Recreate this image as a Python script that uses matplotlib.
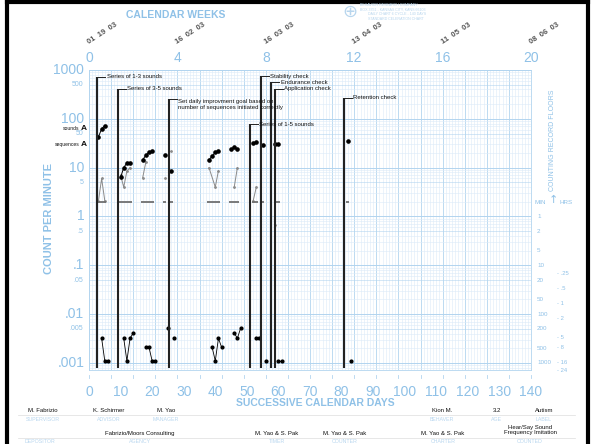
import matplotlib
matplotlib.use("Agg")
import matplotlib.pyplot as plt
import matplotlib.transforms as mtransforms
from matplotlib.lines import Line2D
import numpy as np

plt.rcParams["font.family"] = ["Liberation Sans", "DejaVu Sans"]

# ---- data ----
sound_days = [3, 4, 5, 10, 11, 12, 13, 17, 18, 19, 20, 24, 26,
              38, 39, 40, 41, 45, 46, 47, 52, 53, 55, 59, 60, 82]
sound_vals = [43, 62, 73, 6.3, 10, 12.5, 12.5, 14.4, 18, 20.5, 22, 18.4, 8.4,
              14.4, 17.3, 20.5, 22, 24, 26, 24, 31.6, 33, 29, 31, 31, 34.5]

seq_days = [3, 4, 5, 10, 11, 12, 13, 17, 18, 24, 26, 38, 40, 41, 46, 47, 52, 53, 59]
seq_vals = [2.1, 6, 2.1, 7, 4, 8.5, 10, 6.2, 13, 6.2, 22, 10, 4, 8.7, 4, 10, 2.1, 4, 0.67]

err_days = [4, 5, 6, 11, 12, 13, 14, 18, 19, 20, 21, 25, 27,
            39, 40, 41, 42, 46, 47, 48, 53, 54, 56, 60, 61, 83]
err_vals = [0.0032, 0.0011, 0.0011, 0.0032, 0.0011, 0.0032, 0.0041,
            0.0021, 0.0021, 0.0011, 0.0011, 0.0051, 0.0032,
            0.0021, 0.0011, 0.0032, 0.0021, 0.0041, 0.0032, 0.0051,
            0.0032, 0.0032, 0.0011, 0.0011, 0.0011, 0.0011]

record_floor = 2  # per minute (30 s timings)

phase_days = [2.6, 9.1, 25.3, 50.9, 54.4, 57.7, 58.9, 80.7]
phase_notes = ["Series of 1-3 sounds", "Series of 3-5 sounds",
               "Set daily improvment goal based on\nnumber of sequences initiated correctly",
               "Series of 1-5 sounds", "Stability check", "Endurance check",
               "Application check", "Retention check"]

aims = {"sounds": 64, "sequences": 30.5}

week_labels = ["0", "4", "8", "12", "16", "20"]
week_dates = ["01  19  03", "16  02  03", "16  03  03", "13  04  03", "11  05  03", "08  06  03"]
day_ticks = list(range(0, 141, 10))

big_vals = [1000, 100, 10, 1, .1, .01, .001]
big_labels = ["1000", "100", "10", "1", ".1", ".01", ".001"]
small_vals = [500, 50, 5, .5, .05, .005]
small_labels = ["500", "50", "5", ".5", ".05", ".005"]

floor_minutes = [1, 2, 5, 10, 20, 50, 100, 200, 500, 1000]
floor_hours = [".25", ".5", "1", "2", "5", "8", "16", "24"]
floor_hour_vals = [0.25, 0.5, 1, 2, 5, 8, 16, 24]

footer_top = [("M. Fabrizio", "SUPERVISOR", 43), ("K. Schirmer", "ADVISOR", 109),
              ("M. Yao", "MANAGER", 166), ("Kion M.", "BEHAVER", 442),
              ("3.2", "AGE", 497), ("Autism", "LABEL", 544)]
footer_bot = [("", "DEPOSITOR", 40), ("Fabrizio/Moors Consulting", "AGENCY", 140),
              ("M. Yao & S. Pak", "TIMER", 277), ("M. Yao & S. Pak", "COUNTER", 345),
              ("M. Yao & S. Pak", "CHARTER", 443),
              ("Hear/Say Sound\nFrequency Imitation", "COUNTED", 530)]

W, H = 592, 444
BLUE = "#8fc1e7"
GRID_L = "#dcebf8"
GRID_M = "#b2d4ef"

fig = plt.figure(figsize=(W / 100, H / 100), dpi=100)
ax = fig.add_axes([89 / W, 1 - 370 / H, 442 / W, 300 / H])
ax.set_yscale("log")
ax.set_xlim(0, 140)
ax.set_ylim(10 ** -3.144, 1000)
ax.set_xticks([])
ax.set_yticks([])
ax.minorticks_off()
for s in ax.spines.values():
    s.set_color(GRID_M)
    s.set_linewidth(0.6)

# grid
for d in range(0, 141):
    ax.axvline(d, color=GRID_M if d % 7 == 0 else GRID_L, lw=0.6 if d % 7 == 0 else 0.4, zorder=0)
for k in range(-4, 3):
    for m in range(1, 10):
        v = m * 10.0 ** k
        if v < 10 ** -3.144:
            continue
        ax.axhline(v, color=GRID_M if m in (1, 5) else GRID_L, lw=0.7 if m == 1 else 0.4, zorder=0)
ax.axhline(1000, color=GRID_M, lw=0.7, zorder=0)


def segments(days, vals):
    out, cur = [], [0]
    for i in range(1, len(days)):
        a, b = days[i - 1], days[i]
        if b - a > 2 or any(a < p < b for p in phase_days):
            out.append(cur)
            cur = []
        cur.append(i)
    out.append(cur)
    return [([days[j] for j in c], [vals[j] for j in c]) for c in out]


for xs, ys in segments(seq_days, seq_vals):
    ax.plot(xs, ys, "-", color="#8a8a8a", lw=0.7, marker="o", ms=1.0, zorder=3)
for xs, ys in segments(sound_days, sound_vals):
    ax.plot(xs, ys, "-", color="black", lw=0.7, marker="o", ms=2.3, zorder=4)
for xs, ys in segments(err_days, err_vals):
    ax.plot(xs, ys, "-", color="black", lw=0.6, marker="o", ms=2.0, zorder=4)

# record floor dashes
sd = np.array(sound_days, dtype=float)
ax.hlines([record_floor] * len(sd), sd - 0.5, sd + 0.5, color="#707070", lw=1.3, zorder=3)

# phase change lines with notes
trans = mtransforms.blended_transform_factory(ax.transData, ax.transAxes)
note_tops = [0.977, 0.937, 0.902, 0.82, 0.98, 0.96, 0.937, 0.907]
for d, txt, top in zip(phase_days, phase_notes, note_tops):
    ax.plot([d, d], [0.006, top], color="#222222", lw=1.5, transform=trans, zorder=5, solid_capstyle="butt")
    ax.plot([d, d + 2.6], [top, top], color="#222222", lw=0.7, transform=trans, zorder=5)
    ax.text(d + 3.0, top, txt, transform=trans, fontsize=4.3, va="top" if "\n" in txt else "center",
            ha="left", color="#111111", zorder=6, linespacing=1.1)

# y labels left
ytr = mtransforms.blended_transform_factory(ax.transAxes, ax.transData)
for v, l in zip(big_vals, big_labels):
    ax.text(-0.011, v, l, transform=ytr, ha="right", va="center", fontsize=10, color=BLUE)
for v, l in zip(small_vals, small_labels):
    ax.text(-0.013, v, l, transform=ytr, ha="right", va="center", fontsize=5, color=BLUE)
for name, v in aims.items():
    ax.text(-0.022, v, name, transform=ytr, ha="right", va="center", fontsize=3.6, color="#111111")
    ax.text(-0.018, v, "A", transform=ytr, ha="left", va="center", fontsize=6, fontweight="bold", color="#111111")

# right side record floor scale
for m in floor_minutes:
    ax.text(1.0136, 1.0 / m, str(m), transform=ytr, ha="left", va="center", fontsize=4.5, color=BLUE)
for l, h in zip(floor_hours, floor_hour_vals):
    ax.text(1.059, 1.0 / (h * 60), "- " + l, transform=ytr, ha="left", va="center", fontsize=4.2, color=BLUE)


def ftxt(px, py, s, **kw):
    fig.text(px / W, 1 - py / H, s, **kw)


ftxt(553, 140, "COUNTING RECORD FLOORS", rotation=90, ha="center", va="center", fontsize=5, color=BLUE)
ftxt(546, 202, "MIN", ha="right", va="center", fontsize=4.5, color=BLUE)
ftxt(553, 200, "\u2191", ha="center", va="center", fontsize=8, color=BLUE, family="DejaVu Sans")
ftxt(559, 202, "HRS", ha="left", va="center", fontsize=4.5, color=BLUE)
ftxt(49, 218, "COUNT PER MINUTE", rotation=90, ha="center", va="center", fontsize=8,
     fontweight="bold", color=BLUE)

# top calendar weeks
ftxt(176, 15, "CALENDAR WEEKS", ha="center", va="center", fontsize=7.5, fontweight="bold", color=BLUE)
for i, (wl, dt) in enumerate(zip(week_labels, week_dates)):
    xpx = 89 + 442 * (i * 28) / 140
    ftxt(xpx, 58, wl, ha="center", va="center", fontsize=10, color=BLUE)
    ftxt(xpx + 1, 46, dt, ha="left", va="bottom", fontsize=5.5, fontweight="bold", color="#555555",
         rotation=33, rotation_mode="anchor")

# logo
ftxt(350, 12, "\u2295", ha="center", va="center", fontsize=13, color="#b8d6ee", family="DejaVu Sans")
for j, line in enumerate(["BEHAVIOR RESEARCH COMPANY", "BOX 3351 - KANSAS CITY, KANS 66103",
                          "DAILY CHART 6 CYCLE - 140 DAYS", "STANDARD CELERATION CHART"]):
    ftxt(360 + (8 if j > 1 else 0), 5 + j * 4.5, line, ha="left", va="center", fontsize=2.6, color="#b8d6ee")

# bottom days
for d in day_ticks:
    xpx = 89 + 442 * d / 140
    ftxt(xpx, 392, str(d), ha="center", va="center", fontsize=10, color=BLUE)
for d in range(0, 141, 7):
    xpx = 89 + 442 * d / 140
    fig.add_artist(Line2D([xpx / W] * 2, [1 - 375 / H, 1 - 378 / H], color=GRID_M, lw=0.6))
ftxt(315, 403, "SUCCESSIVE CALENDAR DAYS", ha="center", va="center", fontsize=7.5,
     fontweight="bold", color=BLUE)

# footer
for name, role, xpx in footer_top:
    ftxt(xpx, 410, name, ha="center", va="center", fontsize=4.3, color="#111111")
    ftxt(xpx, 419, role, ha="center", va="center", fontsize=3.8, color="#b9d7ef")
for name, role, xpx in footer_bot:
    ftxt(xpx, 430 if "\n" in name else 433, name, ha="center", va="center", fontsize=4.3,
         color="#111111", linespacing=1.1)
    ftxt(xpx, 441, role, ha="center", va="center", fontsize=3.8, color="#b9d7ef")
for y in (414.5, 437.5):
    fig.add_artist(Line2D([18 / W, 575 / W], [1 - y / H] * 2, color="#dddddd", lw=0.5))

# black frame
fig.add_artist(Line2D([7 / W, 7 / W], [0, 1 - 2 / H], color="black", lw=3))
fig.add_artist(Line2D([7 / W, 588 / W], [1 - 2 / H, 1 - 2 / H], color="black", lw=3))
fig.add_artist(Line2D([588 / W, 588 / W], [0, 1 - 2 / H], color="black", lw=3))

fig.savefig("out.png", dpi=100, facecolor="white")
